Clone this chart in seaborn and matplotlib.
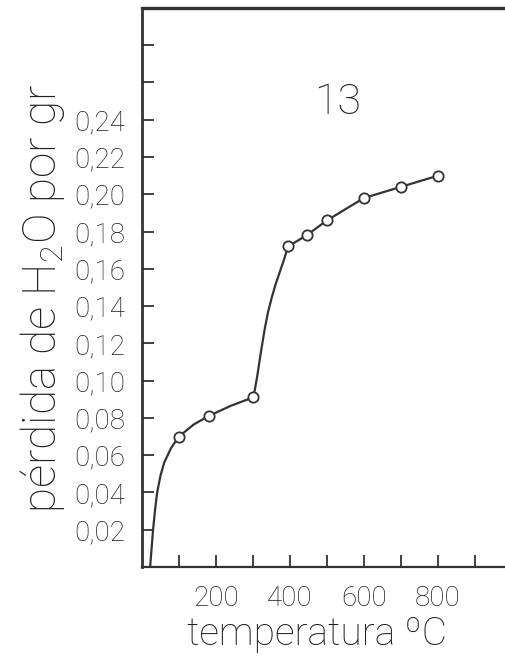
import matplotlib
matplotlib.use("Agg")
import matplotlib.pyplot as plt
import seaborn as sns
import pandas as pd

# Measured points: temperature (°C) and water loss per gram
temp_points = [100, 180, 300, 395, 445, 500, 600, 700, 800]
loss_points = [0.070, 0.081, 0.091, 0.172, 0.178, 0.186, 0.198, 0.204, 0.210]

# Trend line drawn through the measurements
curve_temp = [22, 26, 30, 35, 41, 50, 60, 79, 100, 140, 180, 240, 300,
              305, 312, 322, 332, 341, 350, 360, 372, 384, 395,
              445, 500, 600, 700, 800]
curve_loss = [0.000, 0.010, 0.020, 0.030, 0.040, 0.049, 0.056, 0.064, 0.070,
              0.0765, 0.081, 0.0865, 0.091,
              0.095, 0.103, 0.116, 0.128, 0.137, 0.144, 0.151, 0.158, 0.165,
              0.172, 0.178, 0.186, 0.198, 0.204, 0.210]

x_ticks = [100, 200, 300, 400, 500, 600, 700, 800, 900]
x_tick_labels = ["", "200", "", "400", "", "600", "", "800", ""]
y_ticks = [0.02, 0.04, 0.06, 0.08, 0.10, 0.12, 0.14, 0.16, 0.18, 0.20,
           0.22, 0.24, 0.26, 0.28]
y_tick_labels = ["0,02", "0,04", "0,06", "0,08", "0,10", "0,12", "0,14",
                 "0,16", "0,18", "0,20", "0,22", "0,24", "", ""]

sample_label = "13"
x_label = "temperatura ºC"
y_label = r"pérdida de H$\mathregular{_2}$O por gr"

ink = "#363231"
text_ink = "#221e1d"

sns.set_theme(style="white")
plt.rcParams["font.family"] = ["Roboto", "DejaVu Sans"]
plt.rcParams["font.weight"] = "light"
plt.rcParams["axes.labelweight"] = "light"
plt.rcParams["mathtext.fontset"] = "custom"
plt.rcParams["mathtext.rm"] = "Roboto:light"

fig = plt.figure(figsize=(5.06, 6.63), dpi=100)
ax = fig.add_axes([0.2806, 0.1448, 0.7194, 0.8432])

curve = pd.DataFrame({"temp": curve_temp, "loss": curve_loss})
points = pd.DataFrame({"temp": temp_points, "loss": loss_points})

sns.lineplot(data=curve, x="temp", y="loss", ax=ax, sort=False,
             estimator=None, color=ink, linewidth=1.6)
sns.scatterplot(data=points, x="temp", y="loss", ax=ax, s=55,
                facecolor="white", edgecolor=ink, linewidth=1.3, zorder=3)

ax.set_xlim(0, 984)
ax.set_ylim(0, 0.30)

ax.set_xticks(x_ticks)
ax.set_xticklabels(x_tick_labels)
ax.set_yticks(y_ticks)
ax.set_yticklabels(y_tick_labels)

ax.tick_params(axis="both", direction="in", length=8.5, width=1.3,
               color=ink, labelcolor=text_ink, labelsize=20)
ax.tick_params(axis="x", pad=13, bottom=True)
ax.tick_params(axis="y", pad=12, left=True)

for side in ["left", "top", "bottom"]:
    ax.spines[side].set_visible(True)
    ax.spines[side].set_color(ink)
ax.spines["right"].set_visible(False)
ax.spines["top"].set_linewidth(2.4)
ax.spines["left"].set_linewidth(2.0)
ax.spines["bottom"].set_linewidth(1.6)

ax.set_xlabel(x_label, fontsize=28, color=text_ink, fontweight="light")
ax.xaxis.set_label_coords(0.48, -0.086)
ax.set_ylabel(y_label, fontsize=33, color=text_ink, fontweight="light")
ax.yaxis.set_label_coords(-0.205, 0.48)

ax.text(530, 0.249, sample_label, fontsize=31, color=text_ink,
        fontweight="light", ha="center", va="center")

fig.savefig("out.png", dpi=100, facecolor="white")
